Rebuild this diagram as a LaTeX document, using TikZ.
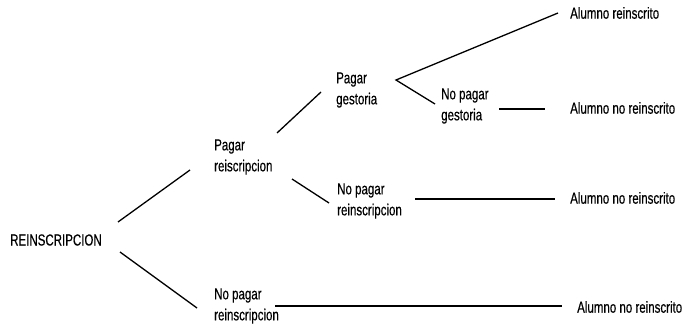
\documentclass[tikz,border=0pt]{standalone}
\usepackage{fontspec}
\setmainfont{Liberation Sans}[FakeStretch=0.72, FakeBold=0.4]
\usepackage{tikz}
\usetikzlibrary{calc}
\newcommand{\sizetext}{\fontsize{16}{21}\selectfont}
\tikzset{
    common/.style={anchor=west, inner sep=0pt, font=\sizetext},
    choice/.style={common, align=left},
    result/.style={common},
    branch/.style={line width=1.3pt, black}
}
\begin{document}
\begin{tikzpicture}[x=1pt, y=1pt]
      \useasboundingbox (0,0) rectangle (691,332);

      \path
          (10,92) node[result] (root) {REINSCRIPCION}
          (214,175) node[choice] (pay-re) {Pagar\\reiscripcion}
          (214,26) node[choice] (nopay-re-b) {No pagar\\reinscripcion}
          (336,242) node[choice] (pay-ge) {Pagar\\gestoria}
          (337,131) node[choice] (nopay-re-a) {No pagar\\reinscripcion}
          (441,226) node[choice] (nopay-ge) {No pagar\\gestoria}
          (570,319) node[result] (ok) {Alumno reinscrito}
          (570,224) node[result] (no-a) {Alumno no reinscrito}
          (570,134) node[result] (no-b) {Alumno no reinscrito}
          (577,25) node[result] (no-c) {Alumno no reinscrito};

      \draw[branch] ([shift={(108,18)}]root.west) -- ([shift={(-24,-13)}]pay-re.west);
      \draw[branch] ([shift={(110,-12)}]root.west) -- ([shift={(-17,-2)}]nopay-re-b.west);
      \draw[branch] ([shift={(63,24)}]pay-re.west) -- ([shift={(-15,-2)}]pay-ge.west);
      \draw[branch] ([shift={(78,-22)}]pay-re.west) -- ([shift={(-8,-2)}]nopay-re-a.west);
      \draw[branch] ([shift={(-12,0)}]ok.west) -- ([shift={(60,10)}]pay-ge.west) -- ([shift={(-6,2)}]nopay-ge.west);
      \draw[branch] ([shift={(58,-3)}]nopay-ge.west) -- ([shift={(-25,-1)}]no-a.west);
      \draw[branch] ([shift={(78,2)}]nopay-re-a.west) -- ([shift={(-15,-1)}]no-b.west);
      \draw[branch] ([shift={(61,0)}]nopay-re-b.west) -- ([shift={(-15,1)}]no-c.west);
\end{tikzpicture}
\end{document}
